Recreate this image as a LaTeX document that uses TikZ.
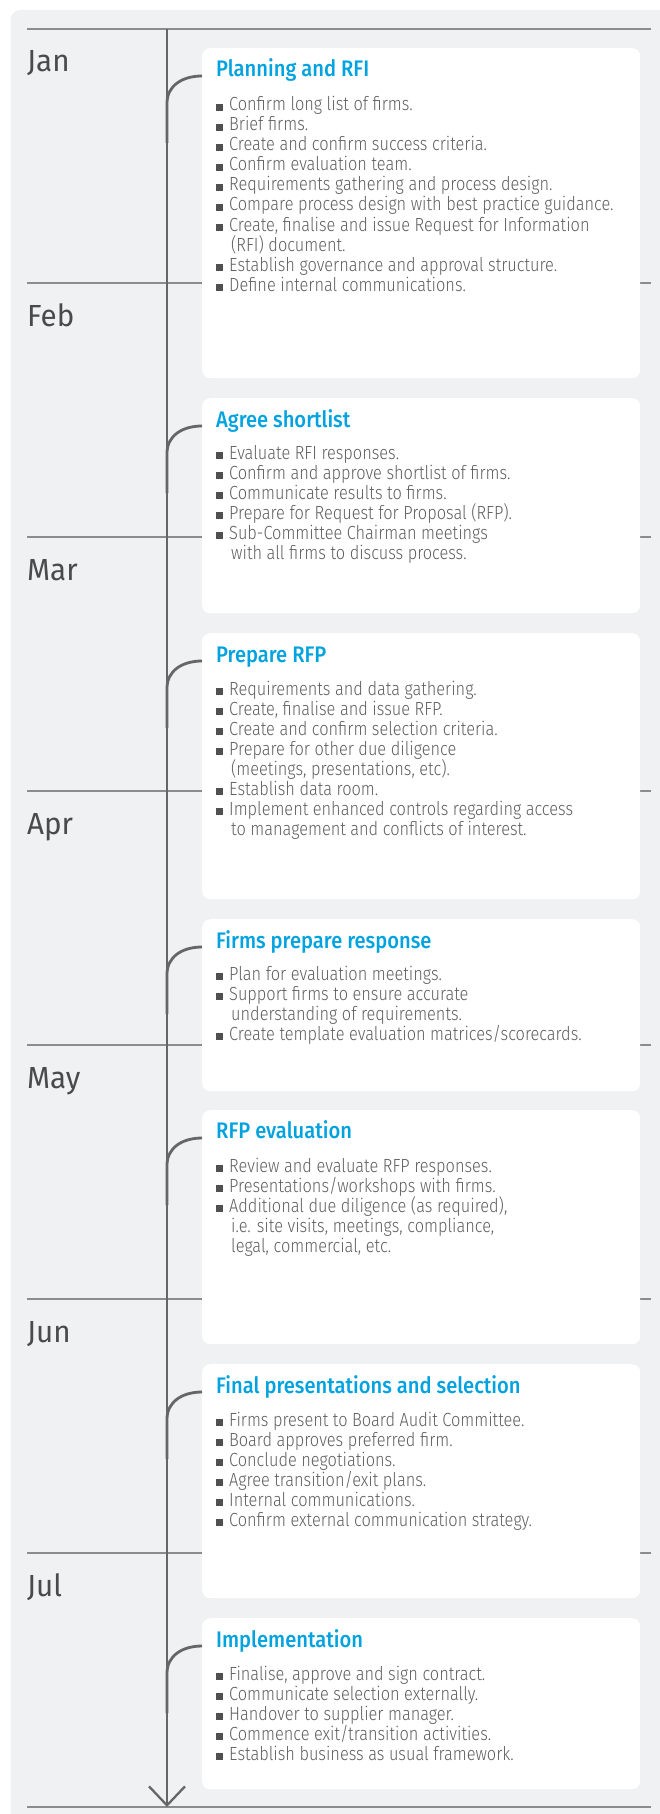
\documentclass[tikz,border=0pt]{standalone}
\usepackage{fontspec}
\usetikzlibrary{arrows.meta}
\newfontfamily\bodyfont{Fira Sans}[FakeStretch=0.86, UprightFont=* Light]
\newfontfamily\titlefont{Fira Sans}[FakeStretch=0.895, UprightFont=* Medium]
\newfontfamily\monthfont{Fira Sans}[FakeStretch=0.97]
\definecolor{panelc}{HTML}{F0F1F3}
\definecolor{titlec}{HTML}{00A3E0}
\definecolor{bodyc}{HTML}{5F5F5F}
\definecolor{bulletc}{HTML}{505050}
\definecolor{monthc}{HTML}{4A4A4A}
\definecolor{linec}{HTML}{8C8C8C}
\definecolor{axisc}{HTML}{666666}
\newcommand\bsq{\textcolor{bulletc}{\raisebox{0.3pt}{\rule{7pt}{6.8pt}}}\hspace{6pt}}
\newcommand\bitem[3]{\node[item] (#1) at (216,#2) {\bsq #3};}
\newcommand\bcont[3]{\node[item] (#1) at (231,#2) {#3};}
\tikzset{
  panel/.style={fill=panelc, draw=none, rounded corners=10pt},
  stage/.style={fill=white, draw=none, rounded corners=8pt, anchor=north west,
    minimum width=438pt, inner sep=0pt},
  mline/.style={draw=linec, line width=1.3pt},
  axis/.style={draw=axisc, line width=2.3pt},
  conn/.style={draw=axisc, line width=2.8pt},
  month/.style={anchor=base west, inner sep=0pt, text=monthc,
    font=\monthfont\fontsize{30.5}{32}\selectfont},
  ttl/.style={anchor=base west, inner sep=0pt, text=titlec,
    font=\titlefont\fontsize{22.5}{24}\selectfont},
  item/.style={anchor=base west, inner sep=0pt, text=bodyc,
    font=\bodyfont\fontsize{19}{20}\selectfont},
}
\begin{document}
\begin{tikzpicture}[x=1pt,y=-1pt]
\useasboundingbox (0,0) rectangle (660,1814);
\fill[panel] (10.5,10) rectangle (700,1850);
% month lines
\foreach \k in {0,...,7} \draw[mline] (27,{29+254*\k}) -- (651,{29+254*\k});
% month labels
\node[month] (jan) at (27,72) {Jan};
\node[month] (feb) at (27,326) {Feb};
\node[month] (mar) at (27,580) {Mar};
\node[month] (apr) at (27,834) {Apr};
\node[month] (may) at (27,1088) {May};
\node[month] (jun) at (27,1342) {Jun};
\node[month] (jul) at (27,1596) {Jul};
% axis
\coordinate (axtop) at (167,29);
\coordinate (axbot) at (167,1807);
\draw[axis,-{Straight Barb[length=19pt,width=36pt]}] (axtop) -- (axbot);
% boxes
\node[stage, minimum height=330pt] (box1) at (202,48) {};
\node[stage, minimum height=215pt] (box2) at (202,398) {};
\node[stage, minimum height=266pt] (box3) at (202,633) {};
\node[stage, minimum height=172pt] (box4) at (202,919) {};
\node[stage, minimum height=234pt] (box5) at (202,1110) {};
\node[stage, minimum height=234pt] (box6) at (202,1364) {};
\node[stage, minimum height=171pt] (box7) at (202,1618) {};
% connectors
\foreach \b/\t in {box1/48,box2/398,box3/633,box4/919,box5/1110,box6/1364,box7/1618}{
  \coordinate (c-\b) at (167,{\t+95});
  \draw[conn] (c-\b) -- ++(0,-40) .. controls +(0,-17) and +(-20,0) .. ([yshift=-28pt]\b.north west);
}
% box 1
\node[ttl] (t1) at (216,77) {Planning and RFI};
\bitem{i11}{111}{Confirm long list of firms.}
\bitem{i12}{131}{Brief firms.}
\bitem{i13}{151}{Create and confirm success criteria.}
\bitem{i14}{171}{Confirm evaluation team.}
\bitem{i15}{191}{Requirements gathering and process design.}
\bitem{i16}{211}{Compare process design with best practice guidance.}
\bitem{i17}{231}{Create, finalise and issue Request for Information}
\bcont{i17b}{251}{(RFI) document.}
\bitem{i18}{271}{Establish governance and approval structure.}
\bitem{i19}{291}{Define internal communications.}
% box 2
\node[ttl] (t2) at (216,427) {Agree shortlist};
\bitem{i21}{459}{Evaluate RFI responses.}
\bitem{i22}{479}{Confirm and approve shortlist of firms.}
\bitem{i23}{499}{Communicate results to firms.}
\bitem{i24}{519}{Prepare for Request for Proposal (RFP).}
\bitem{i25}{539}{Sub-Committee Chairman meetings}
\bcont{i25b}{559}{with all firms to discuss process.}
% box 3
\node[ttl] (t3) at (216,662) {Prepare RFP};
\bitem{i31}{695}{Requirements and data gathering.}
\bitem{i32}{715}{Create, finalise and issue RFP.}
\bitem{i33}{735}{Create and confirm selection criteria.}
\bitem{i34}{755}{Prepare for other due diligence}
\bcont{i34b}{775}{(meetings, presentations, etc).}
\bitem{i35}{795}{Establish data room.}
\bitem{i36}{815}{Implement enhanced controls regarding access}
\bcont{i36b}{835}{to management and conflicts of interest.}
% box 4
\node[ttl] (t4) at (216,948) {Firms prepare response};
\bitem{i41}{980}{Plan for evaluation meetings.}
\bitem{i42}{1000}{Support firms to ensure accurate}
\bcont{i42b}{1020}{understanding of requirements.}
\bitem{i43}{1040}{Create template evaluation matrices/scorecards.}
% box 5
\node[ttl] (t5) at (216,1138) {RFP evaluation};
\bitem{i51}{1172}{Review and evaluate RFP responses.}
\bitem{i52}{1192}{Presentations/workshops with firms.}
\bitem{i53}{1212}{Additional due diligence (as required),}
\bcont{i53b}{1232}{i.e. site visits, meetings, compliance,}
\bcont{i53c}{1252}{legal, commercial, etc.}
% box 6
\node[ttl] (t6) at (216,1393) {Final presentations and selection};
\bitem{i61}{1426}{Firms present to Board Audit Committee.}
\bitem{i62}{1446}{Board approves preferred firm.}
\bitem{i63}{1466}{Conclude negotiations.}
\bitem{i64}{1486}{Agree transition/exit plans.}
\bitem{i65}{1506}{Internal communications.}
\bitem{i66}{1526}{Confirm external communication strategy.}
% box 7
\node[ttl] (t7) at (216,1647) {Implementation};
\bitem{i71}{1680}{Finalise, approve and sign contract.}
\bitem{i72}{1700}{Communicate selection externally.}
\bitem{i73}{1720}{Handover to supplier manager.}
\bitem{i74}{1740}{Commence exit/transition activities.}
\bitem{i75}{1760}{Establish business as usual framework.}
\end{tikzpicture}
\end{document}
